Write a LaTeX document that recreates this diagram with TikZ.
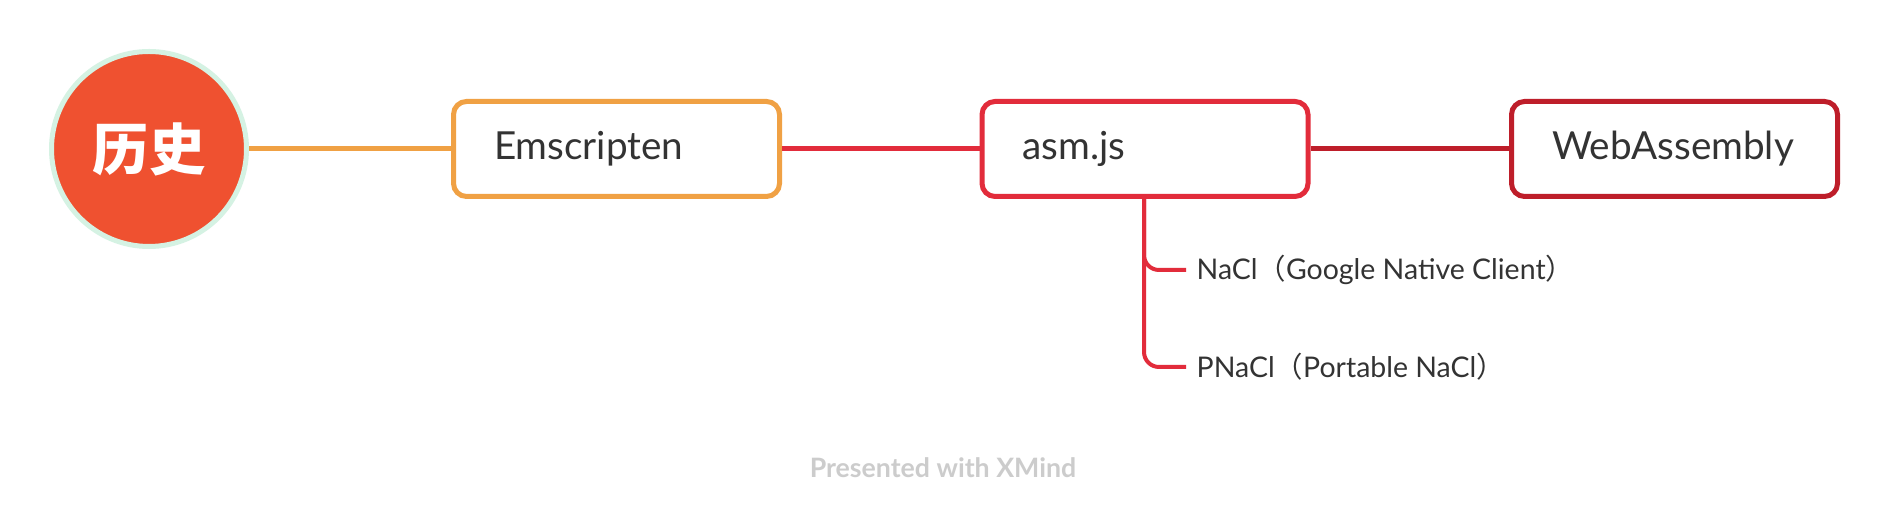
\documentclass[tikz,border=0pt]{standalone}
\usepackage{fontspec}
\setmainfont{Lato}
\newfontfamily\cjk{Noto Sans CJK SC}
\usetikzlibrary{positioning}
\definecolor{xorange}{HTML}{F0A144}
\definecolor{xred}{HTML}{E22C3B}
\definecolor{xdarkred}{HTML}{BE1E2A}
\definecolor{xroot}{HTML}{EF5130}
\definecolor{xring}{HTML}{D5F2E3}
\definecolor{xtext}{HTML}{333333}
\definecolor{xfoot}{HTML}{CCCCCC}

\begin{document}
\begin{tikzpicture}[
  topic/.style={rectangle, rounded corners=0.13cm, draw, line width=0.05cm, fill=white,
    minimum width=3.26cm, minimum height=0.95cm, inner xsep=0.385cm,
    text width=2.45cm, align=left, text=xtext, font=\fontsize{11pt}{13pt}\selectfont},
  sub/.style={anchor=west, inner xsep=0.1cm, text=xtext, font=\fontsize{8.1pt}{10pt}\selectfont},
  link/.style={line width=0.05cm},
  sublink/.style={line width=0.04cm, xred, rounded corners=0.15cm},
]
  \fill[white] (0,0) rectangle (18.88,5.20);
  \useasboundingbox (0,0) rectangle (18.88,5.20);
  \node[circle, fill=xroot, draw=xring, line width=0.05cm, minimum size=1.95cm,
    text=white, font=\cjk\bfseries\fontsize{16pt}{18pt}\selectfont] (root) at (1.49,3.71) {历史};
  \node[topic, draw=xorange]  (emscripten) at (6.165,3.71) {Emscripten};
  \node[topic, draw=xred]     (asmjs)      at (11.45,3.71) {asm.js};
  \node[topic, draw=xdarkred] (wasm)       at (16.745,3.71) {WebAssembly};
  \node[sub] (nacl)  at (11.86,2.50) {NaCl{\cjk （}Google Native Client{\cjk ）}};
  \node[sub] (pnacl) at (11.86,1.53) {PNaCl{\cjk （}Portable NaCl{\cjk ）}};
  \node[text=xfoot, font=\bfseries\fontsize{7.6pt}{9pt}\selectfont] (footer) at (9.43,0.52) {Presented with XMind};

  \draw[link, xorange]  (root) -- (emscripten);
  \draw[link, xred]     (emscripten) -- (asmjs);
  \draw[link, xdarkred] (asmjs) -- (wasm);
  \draw[sublink] ([xshift=-0.01cm]asmjs.south) |- (nacl.west);
  \draw[sublink] ([xshift=-0.01cm]asmjs.south) |- (pnacl.west);
\end{tikzpicture}
\end{document}
